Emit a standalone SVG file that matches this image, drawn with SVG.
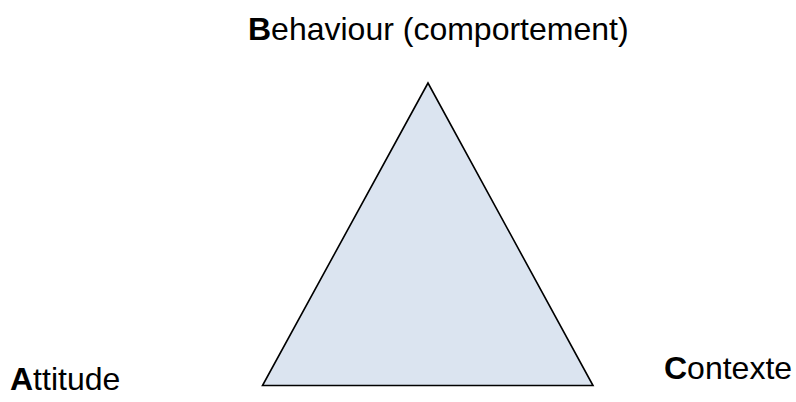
<svg xmlns="http://www.w3.org/2000/svg" width="796" height="402" viewBox="0 0 796 402">
<style>
.lbl{font-family:"Liberation Sans",Arial,sans-serif;font-size:32px;fill:#000}
.b{font-weight:bold}
</style>
<rect width="796" height="402" fill="#fff"/>
<g id="triangle">
<polygon points="428,83 262.5,385.5 593,385.5" fill="#dbe4f0" stroke="#000" stroke-width="1.6" stroke-linejoin="miter"/>
</g>
<g id="behaviour">
<text class="lbl" x="248" y="40"><tspan class="b">B</tspan>ehaviour (comportement)</text>
</g>
<g id="attitude">
<text class="lbl" x="10" y="390"><tspan class="b">A</tspan>ttitude</text>
</g>
<g id="contexte">
<text class="lbl" x="664" y="379"><tspan class="b">C</tspan>ontexte</text>
</g>
</svg>
